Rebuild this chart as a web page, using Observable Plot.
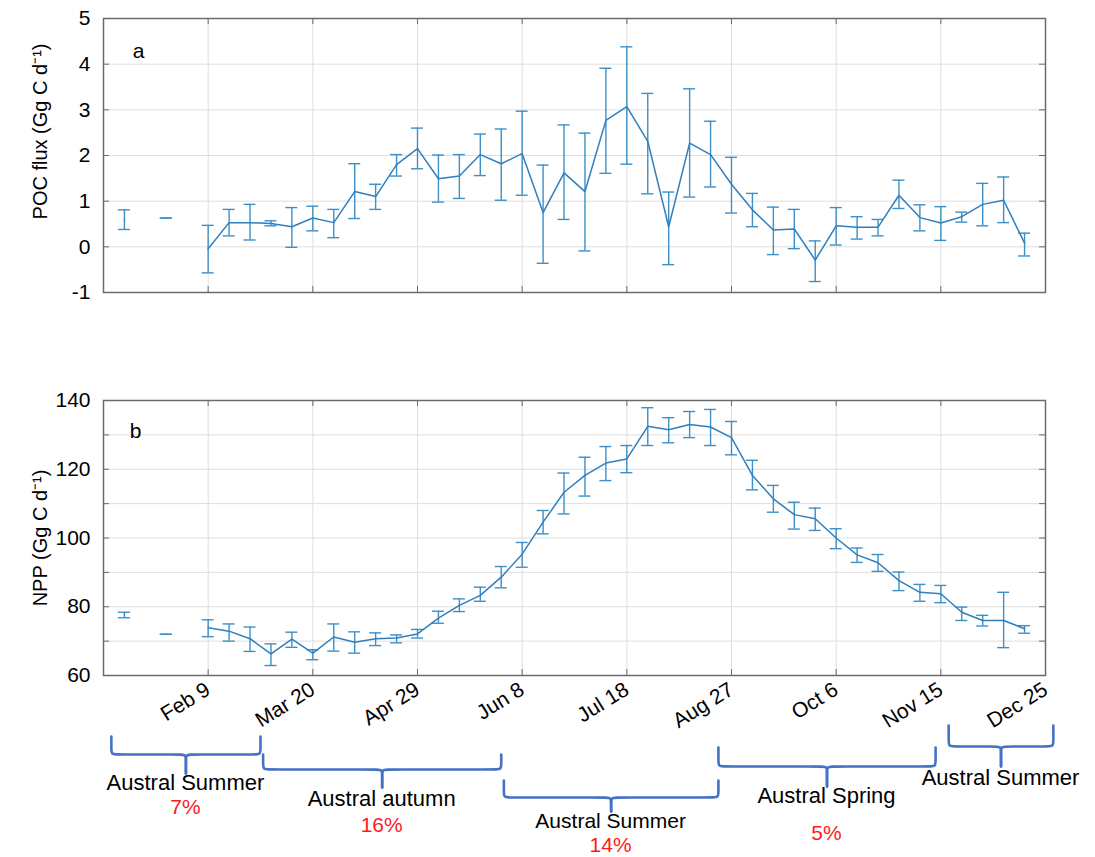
<!DOCTYPE html>
<html><head><meta charset="utf-8">
<script src="https://cdn.jsdelivr.net/npm/d3@7"></script>
<script src="https://cdn.jsdelivr.net/npm/@observablehq/plot@0.6"></script>
<style>
body{margin:0;background:#fff;}
#wrap{position:relative;width:1095px;height:857px;font-family:"Liberation Sans",Arial,sans-serif;}
#wrap svg{position:absolute;left:0;}
</style></head><body><div id="wrap"></div>
<script>
// ---- data ----
const days = [8,16,24,32,40,48,56,64,72,80,88,96,104,112,120,128,136,144,152,160,168,176,184,192,200,208,216,224,232,240,248,256,264,272,280,288,296,304,312,320,328,336,344,352];
const pocMean = [0.60,null,0.63,null,-0.04,0.53,0.53,0.51,0.44,0.63,0.53,1.21,1.10,1.80,2.15,1.49,1.55,2.02,1.82,2.04,0.75,1.62,1.21,2.77,3.07,2.31,0.44,2.27,2.02,1.37,0.81,0.37,0.39,-0.29,0.46,0.43,0.43,1.13,0.64,0.52,0.66,0.93,1.02,0.08];
const pocLow  = [0.38,null,0.63,null,-0.57,0.24,0.15,0.46,-0.01,0.35,0.20,0.62,0.82,1.55,1.71,0.98,1.06,1.56,1.02,1.13,-0.36,0.60,-0.09,1.61,1.81,1.16,-0.39,1.09,1.31,0.74,0.44,-0.17,-0.04,-0.76,0.04,0.17,0.24,0.84,0.35,0.14,0.54,0.46,0.53,-0.20];
const pocHigh = [0.81,null,0.63,null,0.47,0.82,0.93,0.57,0.86,0.89,0.82,1.82,1.37,2.02,2.60,2.01,2.02,2.47,2.58,2.97,1.79,2.67,2.49,3.91,4.38,3.36,1.20,3.46,2.75,1.96,1.17,0.87,0.82,0.13,0.86,0.66,0.60,1.46,0.92,0.88,0.76,1.39,1.53,0.30];
const nppMean = [77.7,null,72.0,null,73.9,72.9,70.7,66.3,70.6,66.5,71.2,69.7,70.7,70.9,72.1,76.7,80.4,83.3,88.6,95.3,104.6,113.3,118.2,121.8,123.0,132.5,131.5,133.0,132.3,129.2,118.2,111.4,106.8,105.6,100.0,95.1,92.8,87.6,84.2,83.8,78.4,76.0,76.0,73.6];
const nppLow  = [76.8,null,72.0,null,71.3,70.0,67.0,62.9,68.2,64.6,67.1,66.5,68.7,69.5,70.9,75.2,78.6,81.6,85.5,91.5,101.2,107.0,112.2,116.7,119.0,126.9,127.7,129.2,126.9,124.2,114.0,107.5,102.6,102.2,96.9,92.9,90.3,84.7,81.6,81.2,76.0,74.4,68.1,72.3];
const nppHigh = [78.4,null,72.0,null,76.2,75.0,74.1,69.2,72.6,67.5,75.0,72.7,72.4,71.8,73.4,78.7,82.3,85.7,91.7,98.7,108.0,118.9,123.5,126.6,126.9,137.9,135.0,136.8,137.4,133.9,122.6,115.3,110.4,108.7,102.7,97.1,95.2,90.1,86.5,86.2,79.9,77.5,84.2,74.5];

const xTicks = [40,80,120,160,200,240,280,320,360];
const xTickLabels = ["Feb 9","Mar 20","Apr 29","Jun 8","Jul 18","Aug 27","Oct 6","Nov 15","Dec 25"];
const pocTicks = [-1,0,1,2,3,4,5];
const nppTicks = [60,70,80,90,100,110,120,130,140];
const nppTickLabels = [60,80,100,120,140];

const seasonNames = ["Austral Summer","Austral autumn","Austral Summer","Austral Spring","Austral Summer"];
const seasonPct = ["7%","16%","14%","5%",""];
const seasonStart = [3,61,153,235,323];
const seasonEnd = [60,152,235,318,363];

// ---- layout / style ----
const FONT = "'Liberation Sans', Arial, sans-serif";
const FRAME = "#6b6b6b", GRID = "#dedede", BAR = "#3d8fc6", LINE = "#2f7fbf", BRACE = "#4472c4";
const XDOM = [0, 360];
// page-y layout for braces: [armTop, lineY, tipY, nameY, pctY, textShiftPx, nameSize]
const braceLayout = [
  [736,754,773,783,807,2,22],
  [754,769,787,799,825,3,22],
  [780,797,811,821,845,14,21],
  [747,766,786,796,833,1,22],
  [725,746,766,778,null,12,22]
];

const wrap = document.getElementById("wrap");

function rowsOf(m, lo, hi) {
  return days.map((d, i) => ({day: d, mean: m[i], lo: lo[i], hi: hi[i]}));
}

function panel({rows, yDomain, yTicks, yLabels, yTitle, titleDy, letter, letterDx, letterDy, height, marginTop, marginBottom, showX}) {
  const ok = rows.filter(r => r.mean != null);
  const [y0, y1] = yDomain;
  const marks = [
    Plot.gridX(xTicks, {stroke: GRID, strokeOpacity: 1, strokeWidth: 1}),
    Plot.gridY(yTicks, {stroke: GRID, strokeOpacity: 1, strokeWidth: 1}),
    // inward ticks on all four sides
    Plot.ruleY(yTicks, {y: d => d, x1: () => XDOM[0], x2: () => XDOM[0], insetRight: -6, stroke: FRAME}),
    Plot.ruleY(yTicks, {y: d => d, x1: () => XDOM[1], x2: () => XDOM[1], insetLeft: -6, stroke: FRAME}),
    Plot.ruleX(xTicks, {x: d => d, y1: () => y0, y2: () => y0, insetTop: -6, stroke: FRAME}),
    Plot.ruleX(xTicks, {x: d => d, y1: () => y1, y2: () => y1, insetBottom: -6, stroke: FRAME}),
    Plot.frame({stroke: FRAME, strokeWidth: 1.5}),
    Plot.axisY(yLabels, {tickSize: 0, tickPadding: 13, tickFormat: d => `${d}`, label: null, fontSize: 21}),
    // error bars
    Plot.ruleX(ok, {x: "day", y1: "lo", y2: "hi", stroke: BAR, strokeWidth: 1.4}),
    Plot.ruleY(ok, {y: "hi", x1: "day", x2: "day", insetLeft: -6, insetRight: -6, stroke: BAR, strokeWidth: 1.4}),
    Plot.ruleY(ok, {y: "lo", x1: "day", x2: "day", insetLeft: -6, insetRight: -6, stroke: BAR, strokeWidth: 1.4}),
    Plot.line(rows, {x: "day", y: "mean", stroke: LINE, strokeWidth: 1.5}),
    Plot.text([letter], {frameAnchor: "top-left", dx: letterDx, dy: letterDy, fontSize: 21, textAnchor: "middle"}),
    Plot.text([yTitle], {frameAnchor: "left", rotate: -90, dx: -63, dy: titleDy, fontSize: 20, textAnchor: "middle", lineAnchor: "middle"})
  ];
  if (showX) {
    marks.push(Plot.axisX(xTicks, {tickSize: 0, tickPadding: 12, tickRotate: -32, fontSize: 21,
      tickFormat: d => xTickLabels[xTicks.indexOf(d)], label: null}));
  }
  return Plot.plot({
    width: 1095, height, marginLeft: 103, marginRight: 50, marginTop, marginBottom,
    style: {fontFamily: FONT, fontSize: "21px", color: "#000", background: "transparent", overflow: "visible"},
    x: {domain: XDOM, axis: null},
    y: {domain: yDomain, axis: null},
    marks
  });
}

const a = panel({
  rows: rowsOf(pocMean, pocLow, pocHigh), yDomain: [-1, 5], yTicks: pocTicks, yLabels: pocTicks,
  yTitle: "POC flux (Gg C d\u207B\u00B9)", titleDy: -24, letter: "a", letterDx: 35, letterDy: 25,
  height: 310, marginTop: 18, marginBottom: 18, showX: false
});
a.style.top = "0px";
wrap.appendChild(a);

const b = panel({
  rows: rowsOf(nppMean, nppLow, nppHigh), yDomain: [60, 140], yTicks: nppTicks, yLabels: nppTickLabels,
  yTitle: "NPP (Gg C d\u207B\u00B9)", titleDy: 0, letter: "b", letterDx: 32, letterDy: 23,
  height: 410, marginTop: 90, marginBottom: 45, showX: true
});
b.style.top = "310px";
wrap.appendChild(b);

// ---- season braces ----
const bracePts = [];
const labels = [];
seasonStart.forEach((s, i) => {
  const e = seasonEnd[i], m = (s + e) / 2;
  const [top, ln, tip, nameY, pctY, shift, nameSize] = braceLayout[i];
  const r = 2.4, ry = 6;
  const left = [[s, top], [s, ln - ry], [s, ln], [s + r, ln], [m - r, ln], [m, ln], [m, ln + ry], [m, tip]];
  const right = [[m, tip], [m, ln + ry], [m, ln], [m + r, ln], [e - r, ln], [e, ln], [e, ln - ry], [e, top]];
  left.forEach(p => bracePts.push({id: i + "L", x: p[0], y: p[1]}));
  right.forEach(p => bracePts.push({id: i + "R", x: p[0], y: p[1]}));
  labels.push({x: m, y: nameY, text: seasonNames[i], fill: "#000", dx: shift, size: nameSize});
  if (seasonPct[i]) labels.push({x: m, y: pctY, text: seasonPct[i], fill: "#ff1a1a", dx: 0, size: 21});
});

const c = Plot.plot({
  width: 1095, height: 157, marginLeft: 103, marginRight: 50, marginTop: 0, marginBottom: 0,
  style: {fontFamily: FONT, background: "transparent", overflow: "visible"},
  x: {domain: XDOM, axis: null},
  y: {domain: [700, 857], range: [0, 157], axis: null},
  marks: [
    Plot.line(bracePts, {x: "x", y: "y", z: "id", curve: "basis", stroke: BRACE, strokeWidth: 2.6}),
    Plot.text(labels.filter(d => d.size === 22), {x: "x", y: "y", text: "text", fill: "fill", dx: "dx", fontSize: 22, lineAnchor: "middle"}),
    Plot.text(labels.filter(d => d.size === 21), {x: "x", y: "y", text: "text", fill: "fill", dx: "dx", fontSize: 21, lineAnchor: "middle"})
  ]
});
c.style.top = "700px";
wrap.appendChild(c);
</script>
</body></html>
